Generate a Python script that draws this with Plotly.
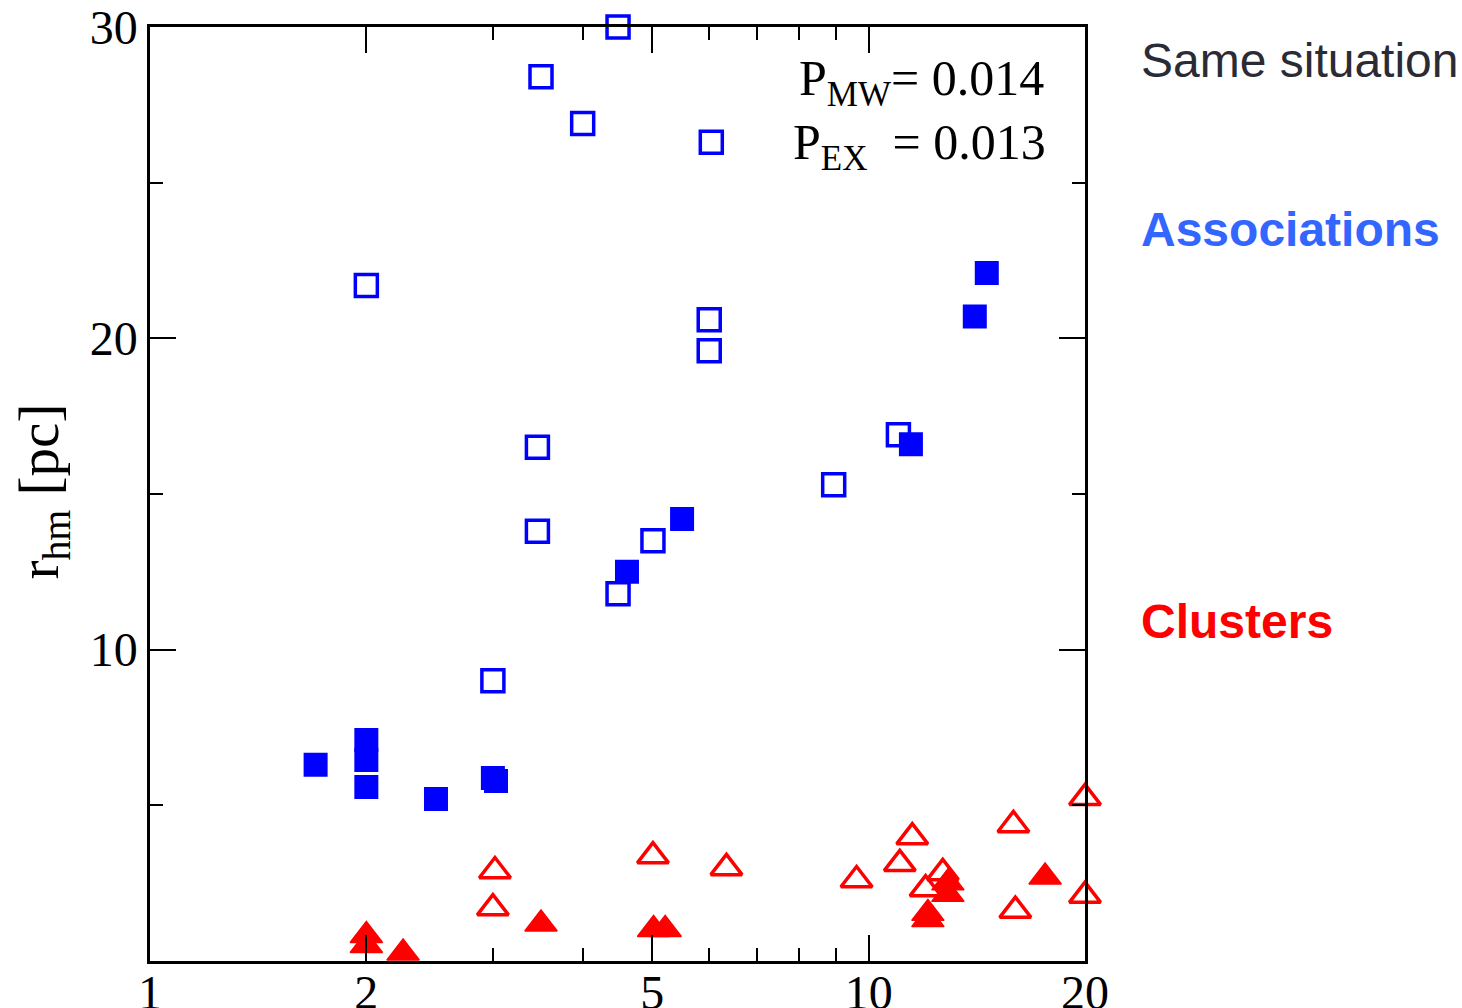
import math
import plotly.graph_objects as go

# Associations: half-mass radius [pc] vs. x (log scale)
assoc_open_x = [4.48, 3.50, 4.00, 6.04, 2.00, 6.00, 6.00, 3.46, 11.0, 8.94, 3.46, 5.01, 4.48, 3.00]
assoc_open_y = [30.0, 28.4, 26.9, 26.3, 21.7, 20.6, 19.6, 16.5, 16.9, 15.3, 13.8, 13.5, 11.8, 9.0]
assoc_filled_x = [14.6, 14.05, 11.45, 5.50, 4.61, 1.70, 2.00, 2.00, 2.00, 2.50, 3.00, 3.03]
assoc_filled_y = [22.1, 20.7, 16.6, 14.2, 12.5, 6.3, 7.1, 6.46, 5.59, 5.2, 5.88, 5.78]

# Clusters
cluster_open_x = [20.0, 15.9, 11.5, 5.01, 3.02, 6.34, 11.05, 9.62, 12.68, 12.0, 20.0, 3.0, 16.0]
cluster_open_y = [5.24, 4.37, 3.98, 3.37, 2.89, 2.99, 3.12, 2.60, 2.83, 2.31, 2.10, 1.70, 1.62]
cluster_filled_x = [2.0, 2.0, 2.25, 3.5, 5.02, 5.21, 17.6, 12.89, 12.89, 12.09, 12.09]
cluster_filled_y = [0.82, 0.50, 0.26, 1.19, 1.01, 1.01, 2.70, 2.51, 2.14, 1.53, 1.33]

x_major = [1, 2, 5, 10, 20]
x_minor = [3, 4, 6, 7, 8, 9]
y_major = [10, 20, 30]
y_minor = [5, 15, 25]

BLUE = "#0000ff"
RED = "#ff0000"
SERIF = "Liberation Serif, Times New Roman, serif"
SANS = "Liberation Sans, Arial, sans-serif"

fig = go.Figure()

fig.add_trace(go.Scatter(
    x=assoc_open_x, y=assoc_open_y, mode="markers", cliponaxis=False,
    marker=dict(symbol="square-open", size=22, color=BLUE, line=dict(width=3.5, color=BLUE)),
))
fig.add_trace(go.Scatter(
    x=cluster_open_x, y=cluster_open_y, mode="markers", cliponaxis=False,
    marker=dict(symbol="triangle-up-open", size=27, color=RED, line=dict(width=3.5, color=RED)),
))
fig.add_trace(go.Scatter(
    x=assoc_filled_x, y=assoc_filled_y, mode="markers", cliponaxis=False,
    marker=dict(symbol="square", size=22, color=BLUE, line=dict(width=2, color=BLUE)),
))
fig.add_trace(go.Scatter(
    x=cluster_filled_x, y=cluster_filled_y, mode="markers", cliponaxis=False,
    marker=dict(symbol="triangle-up", size=28, color=RED, line=dict(width=1.5, color=RED)),
))

axis_common = dict(
    showline=True, linewidth=2.5, linecolor="black", mirror="ticks",
    ticks="inside", ticklen=26, tickwidth=2, tickcolor="black",
    showgrid=False, zeroline=False, automargin=False,
    tickfont=dict(family=SERIF, size=48, color="black"),
)

fig.update_xaxes(
    type="log", range=[0, math.log10(20)],
    tickmode="array", tickvals=x_major, ticktext=[str(v) for v in x_major],
    ticklabelstandoff=-12,
    minor=dict(tickmode="array", tickvals=x_minor, ticks="inside", ticklen=13,
               tickwidth=2, tickcolor="black", showgrid=False),
    **axis_common,
)
fig.update_yaxes(
    range=[0, 30],
    tickmode="array", tickvals=y_major, ticktext=[str(v) for v in y_major],
    minor=dict(tickmode="array", tickvals=y_minor, ticks="inside", ticklen=13,
               tickwidth=2, tickcolor="black", showgrid=False),
    **axis_common,
)

annotations = [
    dict(text="r<sub>hm</sub> [pc]", textangle=-90, x=-0.114, y=0.503,
         xanchor="center", yanchor="middle", font=dict(family=SERIF, size=57, color="black")),
    dict(text="P<sub>MW</sub>= 0.014", x=0.958, y=0.941, xanchor="right", yanchor="middle",
         font=dict(family=SERIF, size=50, color="black")),
    dict(text="P<sub>EX</sub>\u00a0\u00a0= 0.013", x=0.960, y=0.873, xanchor="right", yanchor="middle",
         font=dict(family=SERIF, size=50, color="black")),
    dict(text="Same situation", x=1.0577, y=0.9645, xanchor="left", yanchor="middle",
         font=dict(family=SANS, size=48, color="#2b2b36")),
    dict(text="<b>Associations</b>", x=1.0577, y=0.7827, xanchor="left", yanchor="middle",
         font=dict(family=SANS, size=48, color="#3366ff")),
    dict(text="<b>Clusters</b>", x=1.0577, y=0.364, xanchor="left", yanchor="middle",
         font=dict(family=SANS, size=48, color=RED)),
]
for a in annotations:
    a.update(xref="paper", yref="paper", showarrow=False)

fig.update_layout(
    template="none",
    width=1462, height=1008,
    margin=dict(l=150, r=377, t=27, b=47, pad=0),
    paper_bgcolor="white", plot_bgcolor="white",
    showlegend=False,
    annotations=annotations,
)

fig.write_html("out.html")
